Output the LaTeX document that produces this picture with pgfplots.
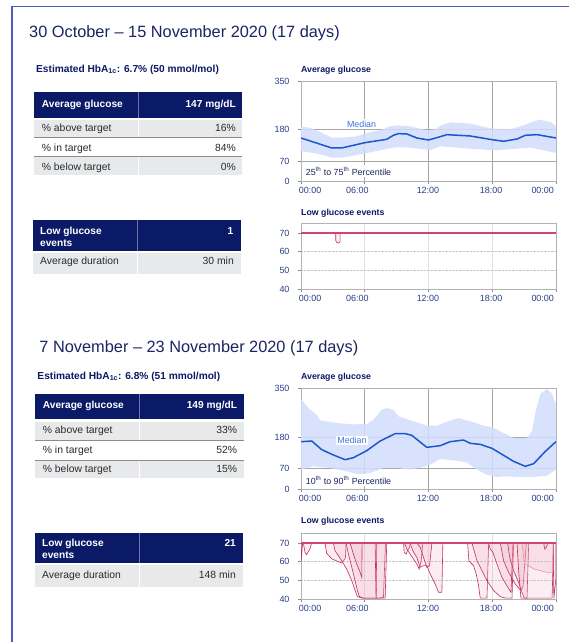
\documentclass[border=0pt]{standalone}
\usepackage{fontspec}
\setmainfont{Liberation Sans}
\usepackage{pgfplots}
\pgfplotsset{compat=1.18}
\definecolor{navy}{HTML}{0B1A66}
\definecolor{titlenavy}{HTML}{1C2463}
\definecolor{ticknavy}{HTML}{2B3F8C}
\definecolor{framec}{HTML}{4A5DBE}
\definecolor{rowgrey}{HTML}{E8E9EB}
\definecolor{sepgrey}{HTML}{8C8C8C}
\definecolor{medblue}{HTML}{1A58CC}
\definecolor{bandblue}{HTML}{D3DEFC}
\definecolor{lablue}{HTML}{3B73E0}
\definecolor{crim}{HTML}{C2305E}
\definecolor{lowline}{HTML}{D0456F}
\definecolor{pinkf}{HTML}{EFA9BE}
\definecolor{txt}{HTML}{2A2A2A}

\newcommand{\fs}[1]{\fontsize{#1}{#1}\selectfont}

\pgfplotsset{
  base/.style={
    scale only axis, width=255bp, xmin=0, xmax=24,
    axis line style={draw=black!30},
    tick align=outside, xtick pos=bottom, ytick pos=left,
    major tick length=3bp,
    tick style={draw=black!45, line width=0.6bp},
    xtick={0,6,12,18,24}, xticklabels={,,,,},
    extra x ticks={0.85,5.3,11.95,17.9,22.75},
    extra x tick labels={00:00,06:00,12:00,18:00,00:00},
    extra x tick style={major tick length=0pt, grid=none},
    ticklabel style={font=\fs{9}, text=ticknavy},
    yticklabel style={xshift=-5bp},
    xticklabel style={yshift=-2.5bp},
  },
  avg/.style={base, height=100bp, ymin=0, ymax=350,
    ytick={0,70,180,350}, yticklabels={0,70,180,350},
    grid=major,
    grid style={draw=black!35, line width=0.6bp}},
  low/.style={base, height=66bp, ymin=40, ymax=75.4,
    ytick={40,50,60,70}, yticklabels={40,50,60,70},
    grid=major,
    x grid style={draw=black!12, line width=0.6bp},
    y grid style={draw=black!22, densely dotted, line width=0.6bp}},
  ev/.style={draw=crim, line width=0.6bp, fill=pinkf, fill opacity=0.2, mark=none},
}

\begin{document}
\begin{tikzpicture}[x=1bp,y=1bp]
\useasboundingbox (0,0) rectangle (569,642);
\fill[white] (0,0) rectangle (569,642);
% frame
\draw[framec, line width=1.8bp] (12,0) -- (12,635.5) -- (569,635.5);

% ===== Section 1 text =====
\node[anchor=base west, inner sep=0, text=titlenavy, font=\fs{16.4}] at (29,604.5) {30 October – 15 November 2020 (17 days)};
\node[anchor=base west, inner sep=0, text=navy, font=\bfseries\fs{10.2}] at (36,569.7) {Estimated HbA\textsubscript{1c}: 6.7\% (50 mmol/mol)};

% table 1
\fill[navy] (34,524) rectangle (242,550);
\draw[navy!60!white, line width=0.6bp] (138,524) -- (138,550);
\fill[rowgrey] (34,504.3) rectangle (242,522);
\fill[rowgrey] (34,467) rectangle (242,484.5);
\draw[white, line width=0.8bp] (138,467) -- (138,522);
\draw[sepgrey, line width=0.9bp] (34,504.3) -- (242,504.3);
\draw[sepgrey, line width=0.9bp] (34,485.3) -- (242,485.3);
\node[anchor=base west, inner sep=0, text=white, font=\bfseries\fs{10.2}] at (41.7,534.7) {Average glucose};
\node[anchor=base east, inner sep=0, text=white, font=\bfseries\fs{10.2}] at (236,534.7) {147 mg/dL};
\node[anchor=base west, inner sep=0, text=txt, font=\fs{10.4}] at (41.7,510.3) {\% above target};
\node[anchor=base east, inner sep=0, text=txt, font=\fs{10.4}] at (236,510.3) {16\%};
\node[anchor=base west, inner sep=0, text=txt, font=\fs{10.4}] at (41.7,490.7) {\% in target};
\node[anchor=base east, inner sep=0, text=txt, font=\fs{10.4}] at (236,490.7) {84\%};
\node[anchor=base west, inner sep=0, text=txt, font=\fs{10.4}] at (41.7,471.3) {\% below target};
\node[anchor=base east, inner sep=0, text=txt, font=\fs{10.4}] at (236,471.3) {0\%};

% low table 1
\fill[navy] (33,391) rectangle (241,422);
\draw[navy!60!white, line width=0.6bp] (137,391) -- (137,422);
\fill[rowgrey] (33,367.7) rectangle (241,389);
\draw[white, line width=0.8bp] (137,367.7) -- (137,389);
\node[anchor=base west, inner sep=0, text=white, font=\bfseries\fs{10.2}] at (40,407.5) {Low glucose};
\node[anchor=base west, inner sep=0, text=white, font=\bfseries\fs{10.2}] at (40,395.5) {events};
\node[anchor=base east, inner sep=0, text=white, font=\bfseries\fs{10.2}] at (233.5,407.5) {1};
\node[anchor=base west, inner sep=0, text=txt, font=\fs{10.4}] at (40,377) {Average duration};
\node[anchor=base east, inner sep=0, text=txt, font=\fs{10.4}] at (234,377) {30 min};

% ===== Section 2 text =====
\node[anchor=base west, inner sep=0, text=titlenavy, font=\fs{16.4}] at (39.3,289) {7 November – 23 November 2020 (17 days)};
\node[anchor=base west, inner sep=0, text=navy, font=\bfseries\fs{10.2}] at (37.3,262.7) {Estimated HbA\textsubscript{1c}: 6.8\% (51 mmol/mol)};

% table 2
\fill[navy] (35,223) rectangle (244,248);
\draw[navy!60!white, line width=0.6bp] (139,223) -- (139,248);
\fill[rowgrey] (35,202) rectangle (244,220);
\fill[rowgrey] (35,164) rectangle (244,181.5);
\draw[white, line width=0.8bp] (139,164) -- (139,220);
\draw[sepgrey, line width=0.9bp] (35,202) -- (244,202);
\draw[sepgrey, line width=0.9bp] (35,182) -- (244,182);
\node[anchor=base west, inner sep=0, text=white, font=\bfseries\fs{10.2}] at (42.7,233.5) {Average glucose};
\node[anchor=base east, inner sep=0, text=white, font=\bfseries\fs{10.2}] at (237.3,233.5) {149 mg/dL};
\node[anchor=base west, inner sep=0, text=txt, font=\fs{10.4}] at (42.7,208.3) {\% above target};
\node[anchor=base east, inner sep=0, text=txt, font=\fs{10.4}] at (237.3,208.3) {33\%};
\node[anchor=base west, inner sep=0, text=txt, font=\fs{10.4}] at (42.7,188.7) {\% in target};
\node[anchor=base east, inner sep=0, text=txt, font=\fs{10.4}] at (237.3,188.7) {52\%};
\node[anchor=base west, inner sep=0, text=txt, font=\fs{10.4}] at (42.7,169.3) {\% below target};
\node[anchor=base east, inner sep=0, text=txt, font=\fs{10.4}] at (237.3,169.3) {15\%};

% low table 2
\fill[navy] (35,79) rectangle (243,109);
\draw[navy!60!white, line width=0.6bp] (139,79) -- (139,109);
\fill[rowgrey] (35,54.5) rectangle (243,76.5);
\draw[white, line width=0.8bp] (139,54.5) -- (139,76.5);
\node[anchor=base west, inner sep=0, text=white, font=\bfseries\fs{10.2}] at (42,95.5) {Low glucose};
\node[anchor=base west, inner sep=0, text=white, font=\bfseries\fs{10.2}] at (42,83.5) {events};
\node[anchor=base east, inner sep=0, text=white, font=\bfseries\fs{10.2}] at (236,95.5) {21};
\node[anchor=base west, inner sep=0, text=txt, font=\fs{10.4}] at (42,63.5) {Average duration};
\node[anchor=base east, inner sep=0, text=txt, font=\fs{10.4}] at (236,63.5) {148 min};

% chart titles
\node[anchor=base west, inner sep=0, text=navy, font=\bfseries\fs{8.8}] at (301,569.7) {Average glucose};
\node[anchor=base west, inner sep=0, text=navy, font=\bfseries\fs{8.8}] at (301,426.3) {Low glucose events};
\node[anchor=base west, inner sep=0, text=navy, font=\bfseries\fs{8.8}] at (301,262) {Average glucose};
\node[anchor=base west, inner sep=0, text=navy, font=\bfseries\fs{8.8}] at (301,118) {Low glucose events};

% ===== Chart A1 =====
\begin{axis}[avg, at={(301bp,461bp)}, anchor=south west]
\addplot[fill=bandblue, draw=none, fill opacity=0.85] coordinates {
(0,191.4)(0.85,185.5)(1.79,171.5)(2.89,151.7)(3.83,151.7)(5.25,156.4)(6.5,171.5)(7.45,177.4)(8.39,191.4)(9.02,194.9)(10.27,191.4)(11.84,177.4)(12.63,180.9)(13.1,193.7)(14.04,205.4)(15.93,200.7)(17.97,183.2)(19.7,180.9)(20.96,194.9)(21.9,208.9)(22.53,214.7)(23.47,206.5)(24,191.4)
(24,98)(23.15,105)(21.58,116.7)(20.33,113.2)(18.44,107.4)(17.18,109.7)(14.67,116.7)(13.1,121.4)(12.16,107.4)(11.84,109.7)(10.27,116.7)(9.02,119)(7.45,107.4)(5.87,95.7)(3.83,81.7)(2.89,81.7)(1.79,93.3)(0,105)} -- cycle;
\addplot[medblue, line width=1.5bp] coordinates {
(0,150.5)(2.89,115.5)(3.83,115.5)(6.03,134.2)(8.07,145.9)(8.7,159.9)(9.17,165.7)(9.96,164.5)(10.9,150.5)(12,143.5)(12.79,151.7)(13.73,162.2)(15.93,157.5)(17.97,144.7)(19.07,138.9)(20.33,147)(21.11,159.9)(22.21,162.2)(24,150.5)};
\node[fill=white, inner sep=1.5bp, text=lablue, font=\fs{8.9}] at (axis cs:5.7,199) {Median};
\node[fill=white, anchor=west, inner sep=1.5bp, text=titlenavy, font=\fs{8.9}] at (axis cs:0.3,35) {25\textsuperscript{th} to 75\textsuperscript{th} Percentile};
\node[anchor=north east, inner sep=0, text=ticknavy, font=\bfseries\fs{5.5}] at (rel axis cs:0,1) [xshift=-8bp, yshift=-5bp] {mg/dL};
\end{axis}

% ===== Chart L1 =====
\begin{axis}[low, at={(301bp,353bp)}, anchor=south west]
\addplot[ev] coordinates {(3.27,70)(3.27,66)(3.35,65)(3.55,64.6)(3.68,65.5)(3.68,70)} -- cycle;
\addplot[color=lowline, line width=1.2bp, mark=none, opacity=1] coordinates {(0,70)(24,70)};
\node[anchor=north east, inner sep=0, text=ticknavy, font=\bfseries\fs{5.5}] at (axis cs:0,70) [xshift=-8bp, yshift=-5bp] {mg/dL};
\end{axis}

% ===== Chart A2 =====
\begin{axis}[avg, at={(301bp,153bp)}, anchor=south west, height=101bp]
\addplot[fill=bandblue, draw=none, fill opacity=0.85] coordinates {
(0,311.8)(0.69,280.6)(1.48,257.5)(1.79,237.9)(3.36,228.6)(4.93,224)(6.19,225.2)(6.82,240.2)(7.6,274.8)(8.07,280.6)(8.7,274.8)(9.17,251.7)(10.59,234.4)(11.84,219.4)(12.79,219.4)(13.73,233.3)(14.83,246)(15.93,234.4)(17.18,219.4)(17.97,214.8)(19.07,194)(20.01,176.7)(21.27,176.7)(21.74,199.8)(22.05,263.3)(22.53,330.3)(23.15,346.4)(23.63,330.3)(24,292.1)
(24,67)(23.15,46.2)(21.9,41.6)(20.33,41.6)(19.38,43.9)(18.44,41.6)(17.5,49.7)(16.56,67)(15.61,92.4)(14.36,99.3)(13.1,103.9)(12.16,84.3)(11.53,76.2)(10.27,67)(9.02,72.7)(7.76,72.7)(6.5,55.4)(5.56,49.7)(4.3,61.2)(2.73,72.7)(1.16,78.5)(0,67)} -- cycle;
\addplot[medblue, line width=1.5bp] coordinates {
(0,164)(1.01,166.3)(1.95,136.3)(3.05,117.8)(4.15,101.6)(4.93,108.5)(6.19,132.8)(7.45,166.3)(8.86,191.7)(9.8,191.7)(10.43,185.9)(11.84,144.3)(13.1,150.1)(14.04,164)(15.3,169.7)(15.93,158.2)(16.87,154.7)(17.97,140.9)(19.07,116.6)(20.01,95.8)(21.11,78.5)(21.9,87.8)(23,130.5)(24,164)};
\node[fill=white, inner sep=1.5bp, text=lablue, font=\fs{8.9}] at (axis cs:4.8,168) {Median};
\node[fill=white, anchor=west, inner sep=1.5bp, text=titlenavy, font=\fs{8.9}] at (axis cs:0.3,31) {10\textsuperscript{th} to 90\textsuperscript{th} Percentile};
\node[anchor=north east, inner sep=0, text=ticknavy, font=\bfseries\fs{5.5}] at (rel axis cs:0,1) [xshift=-8bp, yshift=-5bp] {mg/dL};
\end{axis}

% ===== Chart L2 =====
\begin{axis}[low, at={(301bp,43bp)}, anchor=south west]
\addplot[ev] coordinates {(0,70)(0.02,60.5)(0.15,70)} -- cycle;
\addplot[ev] coordinates {(0.22,70)(0.38,65)(0.53,63.8)(0.85,67)(1.0,70)} -- cycle;
\addplot[ev] coordinates {(2.26,70)(2.42,64.5)(2.89,61.6)(3.36,60.4)(3.83,59.3)(4.18,62)(4.24,70)} -- cycle;
\addplot[ev] coordinates {(3.05,70)(3.2,65.9)(3.52,63.2)(3.83,60.5)(4.3,56.1)(4.78,49.8)(5.1,44.5)(5.31,41.25)(5.72,40.5)(6.5,40.5)(7.45,40.5)(7.76,40.9)(7.95,70)} -- cycle;
\addplot[ev] coordinates {(4.24,70)(4.46,64.1)(4.78,57)(5.09,49.8)(5.31,44.5)(5.5,41.3)(5.87,40.5)(6.5,40.5)(6.82,40.5)(7.07,40.5)(7.13,70)} -- cycle;
\addplot[ev] coordinates {(4.62,70)(4.93,64.1)(5.25,58.75)(5.56,54.3)(5.72,51.6)(5.75,70)} -- cycle;
\addplot[ev] coordinates {(6.97,70)(7.07,40.5)(7.92,40.5)(8.07,70)} -- cycle;
\addplot[ev] coordinates {(9.65,70)(9.71,65)(9.9,64.1)(10.02,65.9)(10.21,67.7)(10.3,70)} -- cycle;
\addplot[ev] coordinates {(9.74,70)(9.96,66.8)(10.27,64.1)(10.59,61.4)(10.9,58.75)(11.12,56.1)(11.31,60.5)(11.47,70)} -- cycle;
\addplot[ev] coordinates {(10.27,70)(10.52,65.9)(10.9,62.3)(11.22,57)(11.53,57.9)(11.84,57.9)(12.16,53.4)(12.63,48)(12.94,43.6)(13.26,43.6)(13.35,70)} -- cycle;
\addplot[ev] coordinates {(10.9,70)(11.22,67.7)(11.53,62.3)(11.84,57)(12.1,57.9)(12.32,70)} -- cycle;
\addplot[ev] coordinates {(15.68,70)(15.8,60.5)(16.02,59.1)(16.24,57.9)(16.49,53.4)(16.71,47.1)(16.87,40.5)(17.5,40.5)(17.66,70)} -- cycle;
\addplot[ev] coordinates {(16.09,70)(16.56,60.5)(17.03,55.2)(17.5,49.8)(18.13,44.5)(18.76,41.25)(19.23,40.5)(19.86,40.5)(20.01,70)} -- cycle;
\addplot[ev] coordinates {(17.66,70)(17.81,66.8)(18.06,65)(18.44,58.75)(18.91,51.6)(19.38,47.1)(19.76,43.6)(19.95,70)} -- cycle;
\addplot[ev] coordinates {(18.76,70)(19.07,60.5)(19.54,54.3)(20.17,48)(20.64,44.8)(20.89,46.25)(21.21,70)} -- cycle;
\addplot[ev] coordinates {(19.45,70)(19.64,62.3)(20.01,55.2)(20.48,48.9)(20.8,43.6)(21.02,40.5)(21.27,40.5)(21.43,70)} -- cycle;
\addplot[ev] coordinates {(20.33,70)(20.48,55.2)(20.7,40.5)(21.9,40.5)(23.63,40.5)(23.78,70)} -- cycle;
\addplot[ev, draw=crim!50] coordinates {(20.8,70)(21.02,58.75)(21.43,57.9)(21.9,56.1)(22.53,55.2)(23.15,54.3)(23.63,54.3)(23.78,70)} -- cycle;
\addplot[ev] coordinates {(22.84,70)(22.93,66.8)(23.09,67.7)(23.22,70)} -- cycle;
\addplot[ev] coordinates {(23.72,70)(23.8,40.2)(24,51.6)(24,70)} -- cycle;
\addplot[color=lowline, line width=1.2bp, mark=none, opacity=1] coordinates {(0,70)(24,70)};
\node[anchor=north east, inner sep=0, text=ticknavy, font=\bfseries\fs{5.5}] at (axis cs:0,70) [xshift=-8bp, yshift=-5bp] {mg/dL};
\end{axis}
\end{tikzpicture}
\end{document}
